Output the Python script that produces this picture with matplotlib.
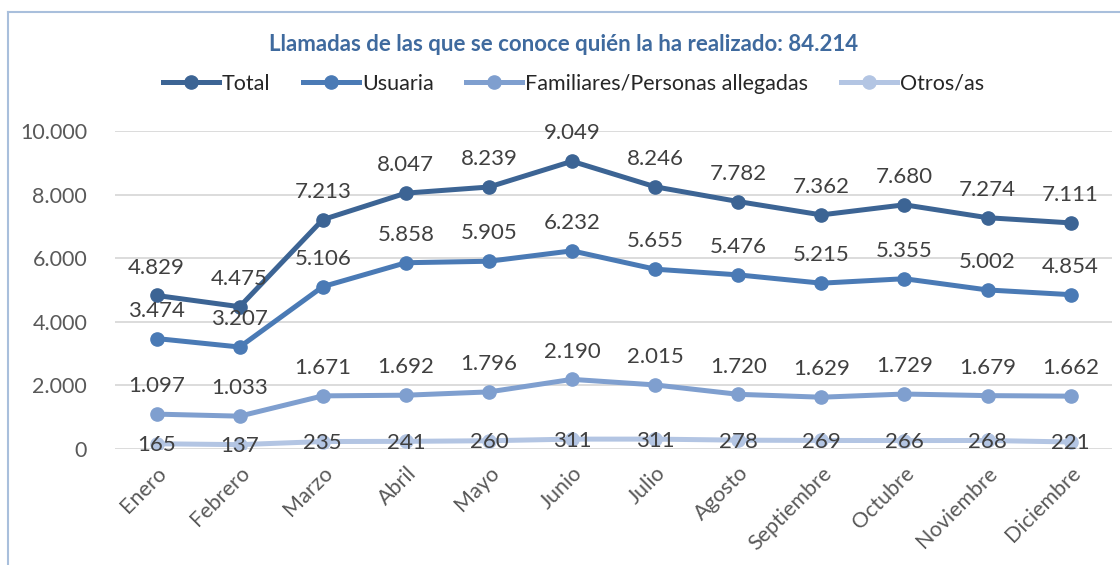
import matplotlib
matplotlib.use('Agg')
import matplotlib.pyplot as plt
from matplotlib.lines import Line2D
from matplotlib.ticker import FuncFormatter

# datos
meses = ['Enero', 'Febrero', 'Marzo', 'Abril', 'Mayo', 'Junio', 'Julio',
         'Agosto', 'Septiembre', 'Octubre', 'Noviembre', 'Diciembre']
total = [4829, 4475, 7213, 8047, 8239, 9049, 8246, 7782, 7362, 7680, 7274, 7111]
usuaria = [3474, 3207, 5106, 5858, 5905, 6232, 5655, 5476, 5215, 5355, 5002, 4854]
familiares = [1097, 1033, 1671, 1692, 1796, 2190, 2015, 1720, 1629, 1729, 1679, 1662]
otros = [165, 137, 235, 241, 260, 311, 311, 278, 269, 266, 268, 221]
nombres = ['Total', 'Usuaria', 'Familiares/Personas allegadas', 'Otros/as']
titulo = 'Llamadas de las que se conoce quién la ha realizado: 84.214'

colores = ['#3C6494', '#4A7AB5', '#7F9FCF', '#B3C5E3']
plt.rcParams['font.family'] = ['Lato', 'DejaVu Sans']


def miles(v):
    return f'{int(v):,}'.replace(',', '.')


fig = plt.figure(figsize=(11.2, 5.65), dpi=100)
ax = fig.add_axes([0.1027, 0.2053, 0.8903, 0.5628])

x = list(range(len(meses)))
series = [total, usuaria, familiares, otros]
for serie, col, nom in zip(series, colores, nombres):
    ax.plot(x, serie, '-o', color=col, lw=3.6, ms=9.5, label=nom,
            solid_capstyle='round', zorder=3)

# etiquetas de datos
for serie in series[:3]:
    for xi, v in zip(x, serie):
        ax.annotate(miles(v), (xi, v), xytext=(0, 20), textcoords='offset points',
                    ha='center', va='center', fontsize=16, color='#404040', zorder=4)
for xi, v in zip(x, otros):
    ax.annotate(miles(v), (xi, v), xytext=(0, -1), textcoords='offset points',
                ha='center', va='center', fontsize=16, color='#404040', zorder=4)

ax.set_xlim(-0.5, len(meses) - 0.5)
ax.set_ylim(0, 10000)
ax.set_yticks(range(0, 10001, 2000))
ax.yaxis.set_major_formatter(FuncFormatter(lambda v, p: miles(v)))
ax.set_xticks(x)
ax.set_xticklabels(meses, rotation=45, ha='right', rotation_mode='anchor')
ax.tick_params(axis='both', length=0, labelsize=15.5, labelcolor='#595959')
ax.tick_params(axis='y', pad=20)
ax.tick_params(axis='x', pad=10)
ax.grid(axis='y', color='#D9D9D9', lw=1.3, zorder=0)
ax.set_axisbelow(True)
for s in ax.spines.values():
    s.set_visible(False)

fig.text(0.503, 0.922, titulo, ha='center', va='center', fontsize=16,
         fontweight='bold', color='#3F6A9E')

handles = [Line2D([], [], color=c, lw=3.6, marker='o', ms=9.5) for c in colores]
fig.legend(handles, nombres, loc='center', bbox_to_anchor=(0.512, 0.852), ncol=4,
           frameon=False, fontsize=15.5, handlelength=2.6, columnspacing=1.5,
           handletextpad=0.15, labelcolor='#262626')

# marco recortado
fig.add_artist(Line2D([8 / 1120, 8 / 1120], [0, 1 - 12 / 565], color='#A9BFDC', lw=1.5))
fig.add_artist(Line2D([8 / 1120, 1], [1 - 12 / 565, 1 - 12 / 565], color='#A9BFDC', lw=1.5))

fig.savefig('out.png', dpi=100)
